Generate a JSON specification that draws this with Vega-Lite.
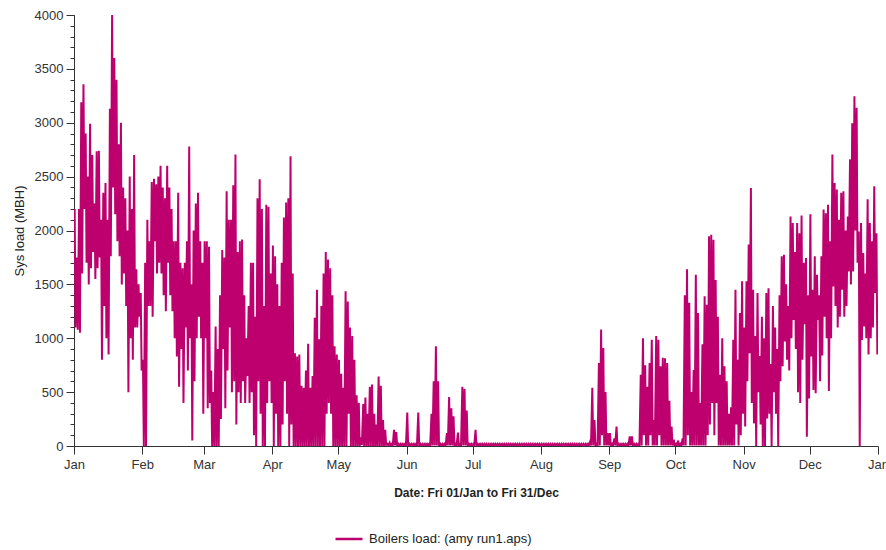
{
"$schema":"https://vega.github.io/schema/vega-lite/v6.json",
"autosize":{"type":"none"},
"padding":{"left":74,"top":15,"right":8,"bottom":104},
"width":804,
"height":431,
"config":{"font":"Liberation Sans","view":{"stroke":null},"axis":{"grid":false,"domainColor":"#333","tickColor":"#333","labelColor":"#333","titleColor":"#222","labelFontSize":13,"titleFontSize":13,"labelFontWeight":"normal"}},
"layer":[
{"data":{"values":[
{"d":0.3,"v":2200},{"d":0.7,"v":1100},{"d":1.3,"v":1750},{"d":1.7,"v":1080},{"d":2.3,"v":2200},{"d":2.7,"v":1050},{"d":3.3,"v":3190},{"d":3.7,"v":1600},{"d":4.3,"v":3357},{"d":4.7,"v":2200},
{"d":5.3,"v":2900},{"d":5.7,"v":1700},{"d":6.3,"v":2500},{"d":6.7,"v":1500},{"d":7.3,"v":2990},{"d":7.7,"v":1650},{"d":8.3,"v":2700},{"d":8.7,"v":1800},{"d":9.3,"v":2250},{"d":9.7,"v":1550},
{"d":10.3,"v":2735},{"d":10.7,"v":1650},{"d":11.3,"v":2740},{"d":11.7,"v":1750},{"d":12.3,"v":2100},{"d":12.7,"v":800},{"d":13.3,"v":2350},{"d":13.7,"v":1300},{"d":14.3,"v":2440},{"d":14.7,"v":1000},
{"d":15.3,"v":2100},{"d":15.7,"v":850},{"d":16.3,"v":3130},{"d":16.7,"v":1760},{"d":17.3,"v":4000},{"d":17.7,"v":2400},{"d":18.3,"v":3600},{"d":18.7,"v":2150},{"d":19.3,"v":3400},{"d":19.7,"v":1900},
{"d":20.3,"v":2800},{"d":20.7,"v":1760},{"d":21.3,"v":3000},{"d":21.7,"v":1500},{"d":22.3,"v":2400},{"d":22.7,"v":1600},{"d":23.3,"v":2300},{"d":23.7,"v":1300},{"d":24.3,"v":2000},{"d":24.7,"v":500},
{"d":25.3,"v":2500},{"d":25.7,"v":1000},{"d":26.3,"v":2200},{"d":26.7,"v":800},{"d":27.3,"v":2700},{"d":27.7,"v":1100},{"d":28.3,"v":1640},{"d":28.7,"v":1100},{"d":29.3,"v":1500},{"d":29.7,"v":1200},
{"d":30.3,"v":1420},{"d":30.7,"v":700},{"d":31.3,"v":800},{"d":31.7,"v":0},{"d":32.3,"v":1700},{"d":32.7,"v":0},{"d":33.3,"v":2100},{"d":33.7,"v":1300},{"d":34.3,"v":1900},{"d":34.7,"v":1300},
{"d":35.3,"v":2450},{"d":35.7,"v":1200},{"d":36.3,"v":2480},{"d":36.7,"v":1900},{"d":37.3,"v":2430},{"d":37.7,"v":1600},{"d":38.3,"v":2500},{"d":38.7,"v":1700},{"d":39.3,"v":2600},{"d":39.7,"v":1600},
{"d":40.3,"v":2400},{"d":40.7,"v":1400},{"d":41.3,"v":2300},{"d":41.7,"v":1250},{"d":42.3,"v":2600},{"d":42.7,"v":1700},{"d":43.3,"v":2400},{"d":43.7,"v":1400},{"d":44.3,"v":2200},{"d":44.7,"v":1250},
{"d":45.3,"v":1900},{"d":45.7,"v":1000},{"d":46.3,"v":1900},{"d":46.7,"v":830},{"d":47.3,"v":2350},{"d":47.7,"v":550},{"d":48.3,"v":1700},{"d":48.7,"v":900},{"d":49.3,"v":1650},{"d":49.7,"v":400},
{"d":50.3,"v":1700},{"d":50.7,"v":1100},{"d":51.3,"v":1900},{"d":51.7,"v":700},{"d":52.3,"v":2780},{"d":52.7,"v":1000},{"d":53.3,"v":1500},{"d":53.7,"v":50},{"d":54.3,"v":2000},{"d":54.7,"v":600},
{"d":55.3,"v":2250},{"d":55.7,"v":1000},{"d":56.3,"v":2350},{"d":56.7,"v":1200},{"d":57.3,"v":1900},{"d":57.7,"v":1000},{"d":58.3,"v":1700},{"d":58.7,"v":300},{"d":59.3,"v":1900},{"d":59.7,"v":1000},
{"d":60.3,"v":1900},{"d":60.7,"v":350},{"d":61.3,"v":1850},{"d":61.7,"v":400},{"d":62.3,"v":700},{"d":62.7,"v":0},{"d":63.3,"v":500},{"d":63.7,"v":0},{"d":64.3,"v":1110},{"d":64.7,"v":0},
{"d":65.3,"v":900},{"d":65.7,"v":0},{"d":66.3,"v":1400},{"d":66.7,"v":250},{"d":67.3,"v":1820},{"d":67.7,"v":900},{"d":68.3,"v":1750},{"d":68.7,"v":350},{"d":69.3,"v":2365},{"d":69.7,"v":700},
{"d":70.3,"v":2100},{"d":70.7,"v":1100},{"d":71.3,"v":2100},{"d":71.7,"v":500},{"d":72.3,"v":2420},{"d":72.7,"v":600},{"d":73.3,"v":2706},{"d":73.7,"v":200},{"d":74.3,"v":1800},{"d":74.7,"v":500},
{"d":75.3,"v":1900},{"d":75.7,"v":400},{"d":76.3,"v":1916},{"d":76.7,"v":600},{"d":77.3,"v":1400},{"d":77.7,"v":400},{"d":78.3,"v":1000},{"d":78.7,"v":650},{"d":79.3,"v":1300},{"d":79.7,"v":400},
{"d":80.3,"v":1700},{"d":80.7,"v":500},{"d":81.3,"v":1700},{"d":81.7,"v":100},{"d":82.3,"v":1200},{"d":82.7,"v":0},{"d":83.3,"v":2300},{"d":83.7,"v":600},{"d":84.3,"v":2475},{"d":84.7,"v":300},
{"d":85.3,"v":2200},{"d":85.7,"v":0},{"d":86.3,"v":1300},{"d":86.7,"v":0},{"d":87.3,"v":2240},{"d":87.7,"v":400},{"d":88.3,"v":2220},{"d":88.7,"v":600},{"d":89.3,"v":1600},{"d":89.7,"v":400},
{"d":90.3,"v":1860},{"d":90.7,"v":0},{"d":91.3,"v":1760},{"d":91.7,"v":300},{"d":92.3,"v":1500},{"d":92.7,"v":0},{"d":93.3,"v":1300},{"d":93.7,"v":0},{"d":94.3,"v":1700},{"d":94.7,"v":200},
{"d":95.3,"v":2120},{"d":95.7,"v":600},{"d":96.3,"v":2260},{"d":96.7,"v":300},{"d":97.3,"v":2300},{"d":97.7,"v":0},{"d":98.3,"v":2690},{"d":98.7,"v":200},{"d":99.3,"v":1600},{"d":99.7,"v":0},
{"d":100.3,"v":860},{"d":100.7,"v":0},{"d":101.3,"v":830},{"d":101.7,"v":0},{"d":102.3,"v":850},{"d":102.7,"v":0},{"d":103.3,"v":560},{"d":103.7,"v":0},{"d":104.3,"v":540},{"d":104.7,"v":0},
{"d":105.3,"v":700},{"d":105.7,"v":0},{"d":106.3,"v":950},{"d":106.7,"v":0},{"d":107.3,"v":540},{"d":107.7,"v":0},{"d":108.3,"v":650},{"d":108.7,"v":0},{"d":109.3,"v":1190},{"d":109.7,"v":0},
{"d":110.3,"v":1450},{"d":110.7,"v":0},{"d":111.3,"v":990},{"d":111.7,"v":0},{"d":112.3,"v":1300},{"d":112.7,"v":0},{"d":113.3,"v":1600},{"d":113.7,"v":0},{"d":114.3,"v":1800},{"d":114.7,"v":300},
{"d":115.3,"v":1730},{"d":115.7,"v":400},{"d":116.3,"v":1650},{"d":116.7,"v":300},{"d":117.3,"v":1400},{"d":117.7,"v":0},{"d":118.3,"v":925},{"d":118.7,"v":0},{"d":119.3,"v":850},{"d":119.7,"v":0},
{"d":120.3,"v":800},{"d":120.7,"v":0},{"d":121.3,"v":670},{"d":121.7,"v":0},{"d":122.3,"v":540},{"d":122.7,"v":0},{"d":123.3,"v":1435},{"d":123.7,"v":0},{"d":124.3,"v":1340},{"d":124.7,"v":300},
{"d":125.3,"v":1100},{"d":125.7,"v":0},{"d":126.3,"v":1020},{"d":126.7,"v":0},{"d":127.3,"v":800},{"d":127.7,"v":0},{"d":128.3,"v":470},{"d":128.7,"v":0},{"d":129.3,"v":400},{"d":129.7,"v":0},
{"d":130.3,"v":80},{"d":130.7,"v":10},{"d":131.3,"v":390},{"d":131.7,"v":0},{"d":132.3,"v":450},{"d":132.7,"v":0},{"d":133.3,"v":300},{"d":133.7,"v":0},{"d":134.3,"v":550},{"d":134.7,"v":0},
{"d":135.3,"v":570},{"d":135.7,"v":0},{"d":136.3,"v":300},{"d":136.7,"v":0},{"d":137.3,"v":200},{"d":137.7,"v":0},{"d":138.3,"v":645},{"d":138.7,"v":0},{"d":139.3,"v":560},{"d":139.7,"v":0},
{"d":140.3,"v":240},{"d":140.7,"v":0},{"d":141.3,"v":150},{"d":141.7,"v":10},{"d":142.3,"v":20},{"d":142.7,"v":5},{"d":143.3,"v":30},{"d":143.7,"v":5},{"d":144.3,"v":20},{"d":144.7,"v":5},
{"d":145.3,"v":150},{"d":145.7,"v":5},{"d":146.3,"v":130},{"d":146.7,"v":5},{"d":147.3,"v":20},{"d":147.7,"v":5},{"d":148.3,"v":20},{"d":148.7,"v":5},{"d":149.3,"v":20},{"d":149.7,"v":5},
{"d":150.3,"v":20},{"d":150.7,"v":5},{"d":151.3,"v":310},{"d":151.7,"v":5},{"d":152.3,"v":20},{"d":152.7,"v":5},{"d":153.3,"v":20},{"d":153.7,"v":5},{"d":154.3,"v":20},{"d":154.7,"v":5},
{"d":155.3,"v":20},{"d":155.7,"v":5},{"d":156.3,"v":310},{"d":156.7,"v":5},{"d":157.3,"v":20},{"d":157.7,"v":5},{"d":158.3,"v":20},{"d":158.7,"v":5},{"d":159.3,"v":20},{"d":159.7,"v":5},
{"d":160.3,"v":20},{"d":160.7,"v":5},{"d":161.3,"v":20},{"d":161.7,"v":5},{"d":162.3,"v":300},{"d":162.7,"v":5},{"d":163.3,"v":600},{"d":163.7,"v":5},{"d":164.3,"v":925},{"d":164.7,"v":5},
{"d":165.3,"v":600},{"d":165.7,"v":5},{"d":166.3,"v":20},{"d":166.7,"v":5},{"d":167.3,"v":20},{"d":167.7,"v":5},{"d":168.3,"v":20},{"d":168.7,"v":5},{"d":169.3,"v":120},{"d":169.7,"v":5},
{"d":170.3,"v":455},{"d":170.7,"v":5},{"d":171.3,"v":350},{"d":171.7,"v":5},{"d":172.3,"v":275},{"d":172.7,"v":5},{"d":173.3,"v":20},{"d":173.7,"v":5},{"d":174.3,"v":125},{"d":174.7,"v":5},
{"d":175.3,"v":20},{"d":175.7,"v":5},{"d":176.3,"v":550},{"d":176.7,"v":5},{"d":177.3,"v":530},{"d":177.7,"v":5},{"d":178.3,"v":330},{"d":178.7,"v":5},{"d":179.3,"v":20},{"d":179.7,"v":5},
{"d":180.3,"v":20},{"d":180.7,"v":5},{"d":181.3,"v":20},{"d":181.7,"v":5},{"d":182.3,"v":150},{"d":182.7,"v":5},{"d":183.3,"v":20},{"d":183.7,"v":5},{"d":184.3,"v":20},{"d":184.7,"v":5},
{"d":185.3,"v":20},{"d":185.7,"v":5},{"d":186.3,"v":20},{"d":186.7,"v":5},{"d":187.3,"v":20},{"d":187.7,"v":5},{"d":188.3,"v":20},{"d":188.7,"v":5},{"d":189.3,"v":20},{"d":189.7,"v":5},
{"d":190.3,"v":20},{"d":190.7,"v":5},{"d":191.3,"v":20},{"d":191.7,"v":5},{"d":192.3,"v":20},{"d":192.7,"v":5},{"d":193.3,"v":20},{"d":193.7,"v":5},{"d":194.3,"v":20},{"d":194.7,"v":5},
{"d":195.3,"v":20},{"d":195.7,"v":5},{"d":196.3,"v":20},{"d":196.7,"v":5},{"d":197.3,"v":20},{"d":197.7,"v":5},{"d":198.3,"v":20},{"d":198.7,"v":5},{"d":199.3,"v":20},{"d":199.7,"v":5},
{"d":200.3,"v":20},{"d":200.7,"v":5},{"d":201.3,"v":20},{"d":201.7,"v":5},{"d":202.3,"v":20},{"d":202.7,"v":5},{"d":203.3,"v":20},{"d":203.7,"v":5},{"d":204.3,"v":20},{"d":204.7,"v":5},
{"d":205.3,"v":20},{"d":205.7,"v":5},{"d":206.3,"v":20},{"d":206.7,"v":5},{"d":207.3,"v":20},{"d":207.7,"v":5},{"d":208.3,"v":20},{"d":208.7,"v":5},{"d":209.3,"v":20},{"d":209.7,"v":5},
{"d":210.3,"v":20},{"d":210.7,"v":5},{"d":211.3,"v":20},{"d":211.7,"v":5},{"d":212.3,"v":20},{"d":212.7,"v":5},{"d":213.3,"v":20},{"d":213.7,"v":5},{"d":214.3,"v":20},{"d":214.7,"v":5},
{"d":215.3,"v":20},{"d":215.7,"v":5},{"d":216.3,"v":20},{"d":216.7,"v":5},{"d":217.3,"v":20},{"d":217.7,"v":5},{"d":218.3,"v":20},{"d":218.7,"v":5},{"d":219.3,"v":20},{"d":219.7,"v":5},
{"d":220.3,"v":20},{"d":220.7,"v":5},{"d":221.3,"v":20},{"d":221.7,"v":5},{"d":222.3,"v":20},{"d":222.7,"v":5},{"d":223.3,"v":20},{"d":223.7,"v":5},{"d":224.3,"v":20},{"d":224.7,"v":5},
{"d":225.3,"v":20},{"d":225.7,"v":5},{"d":226.3,"v":20},{"d":226.7,"v":5},{"d":227.3,"v":20},{"d":227.7,"v":5},{"d":228.3,"v":20},{"d":228.7,"v":5},{"d":229.3,"v":20},{"d":229.7,"v":5},
{"d":230.3,"v":20},{"d":230.7,"v":5},{"d":231.3,"v":20},{"d":231.7,"v":5},{"d":232.3,"v":20},{"d":232.7,"v":5},{"d":233.3,"v":20},{"d":233.7,"v":5},{"d":234.3,"v":40},{"d":234.7,"v":5},
{"d":235.3,"v":540},{"d":235.7,"v":5},{"d":236.3,"v":240},{"d":236.7,"v":5},{"d":237.3,"v":20},{"d":237.7,"v":5},{"d":238.3,"v":770},{"d":238.7,"v":5},{"d":239.3,"v":1080},{"d":239.7,"v":100},
{"d":240.3,"v":910},{"d":240.7,"v":5},{"d":241.3,"v":500},{"d":241.7,"v":5},{"d":242.3,"v":120},{"d":242.7,"v":5},{"d":243.3,"v":120},{"d":243.7,"v":5},{"d":244.3,"v":20},{"d":244.7,"v":5},
{"d":245.3,"v":70},{"d":245.7,"v":5},{"d":246.3,"v":180},{"d":246.7,"v":5},{"d":247.3,"v":20},{"d":247.7,"v":5},{"d":248.3,"v":20},{"d":248.7,"v":5},{"d":249.3,"v":20},{"d":249.7,"v":5},
{"d":250.3,"v":20},{"d":250.7,"v":5},{"d":251.3,"v":20},{"d":251.7,"v":5},{"d":252.3,"v":90},{"d":252.7,"v":5},{"d":253.3,"v":90},{"d":253.7,"v":5},{"d":254.3,"v":20},{"d":254.7,"v":5},
{"d":255.3,"v":20},{"d":255.7,"v":5},{"d":256.3,"v":20},{"d":256.7,"v":5},{"d":257.3,"v":660},{"d":257.7,"v":5},{"d":258.3,"v":1000},{"d":258.7,"v":100},{"d":259.3,"v":750},{"d":259.7,"v":5},
{"d":260.3,"v":550},{"d":260.7,"v":5},{"d":261.3,"v":770},{"d":261.7,"v":100},{"d":262.3,"v":985},{"d":262.7,"v":5},{"d":263.3,"v":240},{"d":263.7,"v":5},{"d":264.3,"v":1020},{"d":264.7,"v":5},
{"d":265.3,"v":985},{"d":265.7,"v":100},{"d":266.3,"v":740},{"d":266.7,"v":5},{"d":267.3,"v":820},{"d":267.7,"v":5},{"d":268.3,"v":815},{"d":268.7,"v":5},{"d":269.3,"v":770},{"d":269.7,"v":5},
{"d":270.3,"v":420},{"d":270.7,"v":5},{"d":271.3,"v":180},{"d":271.7,"v":5},{"d":272.3,"v":60},{"d":272.7,"v":5},{"d":273.3,"v":20},{"d":273.7,"v":5},{"d":274.3,"v":50},{"d":274.7,"v":5},
{"d":275.3,"v":20},{"d":275.7,"v":5},{"d":276.3,"v":70},{"d":276.7,"v":5},{"d":277.3,"v":1400},{"d":277.7,"v":5},{"d":278.3,"v":1640},{"d":278.7,"v":100},{"d":279.3,"v":1330},{"d":279.7,"v":5},
{"d":280.3,"v":500},{"d":280.7,"v":5},{"d":281.3,"v":705},{"d":281.7,"v":5},{"d":282.3,"v":1590},{"d":282.7,"v":5},{"d":283.3,"v":1235},{"d":283.7,"v":5},{"d":284.3,"v":400},{"d":284.7,"v":5},
{"d":285.3,"v":945},{"d":285.7,"v":5},{"d":286.3,"v":1390},{"d":286.7,"v":5},{"d":287.3,"v":1310},{"d":287.7,"v":100},{"d":288.3,"v":1947},{"d":288.7,"v":200},{"d":289.3,"v":1960},{"d":289.7,"v":400},
{"d":290.3,"v":1915},{"d":290.7,"v":100},{"d":291.3,"v":1540},{"d":291.7,"v":400},{"d":292.3,"v":1200},{"d":292.7,"v":5},{"d":293.3,"v":660},{"d":293.7,"v":5},{"d":294.3,"v":1000},{"d":294.7,"v":5},
{"d":295.3,"v":740},{"d":295.7,"v":5},{"d":296.3,"v":600},{"d":296.7,"v":5},{"d":297.3,"v":300},{"d":297.7,"v":5},{"d":298.3,"v":360},{"d":298.7,"v":5},{"d":299.3,"v":985},{"d":299.7,"v":5},
{"d":300.3,"v":1450},{"d":300.7,"v":200},{"d":301.3,"v":800},{"d":301.7,"v":5},{"d":302.3,"v":1235},{"d":302.7,"v":100},{"d":303.3,"v":1530},{"d":303.7,"v":300},{"d":304.3,"v":1100},{"d":304.7,"v":180},
{"d":305.3,"v":1530},{"d":305.7,"v":600},{"d":306.3,"v":1870},{"d":306.7,"v":860},{"d":307.3,"v":2395},{"d":307.7,"v":400},{"d":308.3,"v":1450},{"d":308.7,"v":210},{"d":309.3,"v":1020},{"d":309.7,"v":0},
{"d":310.3,"v":1420},{"d":310.7,"v":500},{"d":311.3,"v":835},{"d":311.7,"v":200},{"d":312.3,"v":1200},{"d":312.7,"v":0},{"d":313.3,"v":1000},{"d":313.7,"v":0},{"d":314.3,"v":1420},{"d":314.7,"v":255},
{"d":315.3,"v":1465},{"d":315.7,"v":300},{"d":316.3,"v":760},{"d":316.7,"v":0},{"d":317.3,"v":1300},{"d":317.7,"v":500},{"d":318.3,"v":1100},{"d":318.7,"v":300},{"d":319.3,"v":900},{"d":319.7,"v":0},
{"d":320.3,"v":1400},{"d":320.7,"v":600},{"d":321.3,"v":1760},{"d":321.7,"v":740},{"d":322.3,"v":1775},{"d":322.7,"v":970},{"d":323.3,"v":1500},{"d":323.7,"v":800},{"d":324.3,"v":1300},{"d":324.7,"v":700},
{"d":325.3,"v":2130},{"d":325.7,"v":1000},{"d":326.3,"v":2070},{"d":326.7,"v":1170},{"d":327.3,"v":1800},{"d":327.7,"v":900},{"d":328.3,"v":2070},{"d":328.7,"v":500},{"d":329.3,"v":1975},{"d":329.7,"v":400},
{"d":330.3,"v":2140},{"d":330.7,"v":800},{"d":331.3,"v":1700},{"d":331.7,"v":1130},{"d":332.3,"v":1745},{"d":332.7,"v":87},{"d":333.3,"v":1400},{"d":333.7,"v":440},{"d":334.3,"v":2150},{"d":334.7,"v":830},
{"d":335.3,"v":1450},{"d":335.7,"v":520},{"d":336.3,"v":1760},{"d":336.7,"v":490},{"d":337.3,"v":1590},{"d":337.7,"v":1170},{"d":338.3,"v":1400},{"d":338.7,"v":600},{"d":339.3,"v":1760},{"d":339.7,"v":840},
{"d":340.3,"v":2195},{"d":340.7,"v":1200},{"d":341.3,"v":2160},{"d":341.7,"v":1000},{"d":342.3,"v":2240},{"d":342.7,"v":510},{"d":343.3,"v":1900},{"d":343.7,"v":1000},{"d":344.3,"v":2705},{"d":344.7,"v":1480},
{"d":345.3,"v":2440},{"d":345.7,"v":1300},{"d":346.3,"v":2380},{"d":346.7,"v":1100},{"d":347.3,"v":2100},{"d":347.7,"v":1200},{"d":348.3,"v":2350},{"d":348.7,"v":1450},{"d":349.3,"v":2365},{"d":349.7,"v":1200},
{"d":350.3,"v":2000},{"d":350.7,"v":1300},{"d":351.3,"v":2130},{"d":351.7,"v":1620},{"d":352.3,"v":2660},{"d":352.7,"v":1500},{"d":353.3,"v":2995},{"d":353.7,"v":1620},{"d":354.3,"v":3245},{"d":354.7,"v":2000},
{"d":355.3,"v":3140},{"d":355.7,"v":1700},{"d":356.3,"v":1990},{"d":356.7,"v":0},{"d":357.3,"v":2070},{"d":357.7,"v":985},{"d":358.3,"v":1790},{"d":358.7,"v":1110},{"d":359.3,"v":1600},{"d":359.7,"v":1000},
{"d":360.3,"v":2290},{"d":360.7,"v":850},{"d":361.3,"v":2070},{"d":361.7,"v":1000},{"d":362.3,"v":1900},{"d":362.7,"v":1100},{"d":363.3,"v":2410},{"d":363.7,"v":1420},{"d":364.3,"v":1975},{"d":364.7,"v":850}
]},
"mark":{"type":"line","strokeWidth":2,"clip":true},
"encoding":{
"x":{"field":"d","type":"quantitative","scale":{"domain":[0,365],"nice":false,"zero":false},
"axis":{"values":[0,31,59,90,120,151,181,212,243,273,304,334,365],"labelExpr":"['Jan','Feb','Mar','Apr','May','Jun','Jul','Aug','Sep','Oct','Nov','Dec','Jan'][indexof([0,31,59,90,120,151,181,212,243,273,304,334,365], datum.value)]","title":"Date: Fri 01/Jan to Fri 31/Dec","titleFontWeight":"bold","titleFontSize":12,"tickSize":8,"labelPadding":4,"titlePadding":16,"labelFlush":false,"labelOverlap":false}},
"y":{"field":"v","type":"quantitative","scale":{"domain":[0,4000],"nice":false},
"axis":{"orient":"left","values":[0,500,1000,1500,2000,2500,3000,3500,4000],"format":"d","title":"Sys load (MBH)","titleFontWeight":"normal","tickSize":8,"labelPadding":3,"titlePadding":8}},
"color":{"datum":"Boilers load: (amy run1.aps)","type":"nominal","scale":{"range":["#BE006E"]},
"legend":{"title":null,"orient":"none","legendX":260,"legendY":509,"symbolType":"stroke","symbolSize":729,"symbolStrokeWidth":2.5,"labelFontSize":13,"labelColor":"#222","labelLimit":0,"padding":0,"labelOffset":5}}
}},
{"data":{"values":[{"v":0}]},
"mark":{"type":"point","opacity":0},
"encoding":{"y":{"field":"v","type":"quantitative",
"axis":{"orient":"left","values":[0,100,200,300,400,500,600,700,800,900,1000,1100,1200,1300,1400,1500,1600,1700,1800,1900,2000,2100,2200,2300,2400,2500,2600,2700,2800,2900,3000,3100,3200,3300,3400,3500,3600,3700,3800,3900,4000],"labels":false,"title":null,"tickSize":4,"domain":false}}}}
],
"resolve":{"axis":{"y":"independent"}}
}
